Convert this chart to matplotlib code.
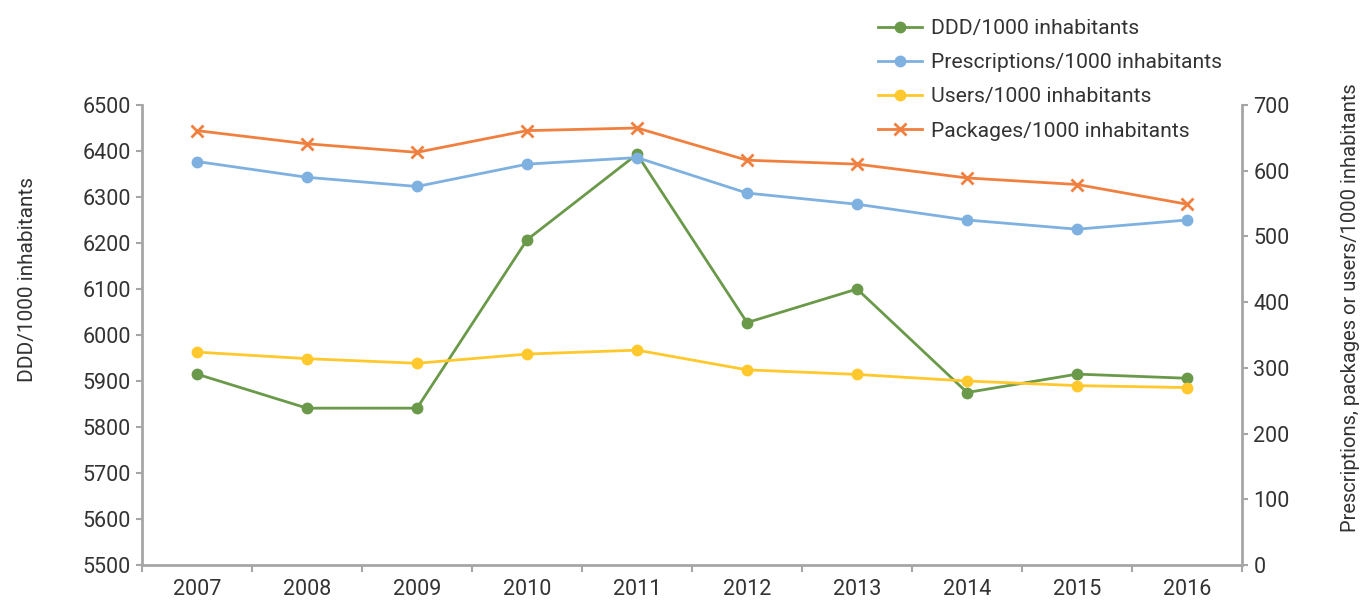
import matplotlib
matplotlib.use('Agg')
import matplotlib.pyplot as plt

plt.rcParams['font.family'] = ['Roboto', 'DejaVu Sans']

years = ['2007', '2008', '2009', '2010', '2011', '2012', '2013', '2014', '2015', '2016']
ddd = [5915, 5841, 5841, 6207, 6393, 6027, 6100, 5875, 5915, 5906]
prescriptions = [614, 590, 576, 610, 620, 566, 549, 525, 511, 525]
users = [324, 314, 307, 321, 327, 297, 290, 280, 273, 270]
packages = [661, 641, 628, 661, 665, 616, 610, 589, 579, 549]

green = '#6A994A'
blue = '#7FB1E0'
yellow = '#FFC82C'
orange = '#F0803F'
axis_grey = '#A6A6A6'
text_col = '#333333'

fig = plt.figure(figsize=(13.65, 6), dpi=100)
ax = fig.add_axes([0.104, 0.0583, 0.806, 0.7667])
ax2 = ax.twinx()

x = list(range(len(years)))
ax.plot(x, ddd, color=green, lw=2, marker='o', ms=7.5, label='DDD/1000 inhabitants')
ax2.plot(x, prescriptions, color=blue, lw=2, marker='o', ms=7.5, label='Prescriptions/1000 inhabitants')
ax2.plot(x, users, color=yellow, lw=2, marker='o', ms=7.5, label='Users/1000 inhabitants')
ax2.plot(x, packages, color=orange, lw=2, marker='x', ms=8, mew=2, label='Packages/1000 inhabitants')

ax.set_xlim(-0.5, len(years) - 0.5)
ax.set_ylim(5500, 6500)
ax2.set_ylim(0, 700)
ax.set_yticks(range(5500, 6501, 100))
ax2.set_yticks(range(0, 701, 100))
ax.set_xticks(x)
ax.set_xticklabels(years)
ax.set_xticks([i - 0.5 for i in range(len(years) + 1)], minor=True)

for a in (ax, ax2):
    a.spines['top'].set_visible(False)
    for s in ('left', 'right', 'bottom'):
        a.spines[s].set_color(axis_grey)
        a.spines[s].set_linewidth(2)
ax.spines['right'].set_visible(False)
ax2.spines['left'].set_visible(False)
ax2.spines['bottom'].set_visible(False)

ax.tick_params(axis='x', which='major', length=0, pad=10, labelsize=15.5, labelcolor=text_col)
ax.tick_params(axis='x', which='minor', length=5, width=1.5, color=axis_grey)
ax.tick_params(axis='y', length=4, width=1.5, color=axis_grey, labelsize=15.5, labelcolor=text_col, pad=4)
ax2.tick_params(axis='y', length=4, width=1.5, color=axis_grey, labelsize=15.5, labelcolor=text_col, pad=4)

ax.set_ylabel('DDD/1000 inhabitants', fontsize=15, color=text_col)
ax.yaxis.set_label_coords(-0.095, 0.62)
ax2.set_ylabel('Prescriptions, packages or users/1000 inhabitants', fontsize=14.5, color=text_col)
ax2.yaxis.set_label_coords(1.09, 0.56)

handles = ax.get_lines() + ax2.get_lines()
leg = fig.legend(handles, [h.get_label() for h in handles], loc='upper left',
                 bbox_to_anchor=(0.629, 1.0), frameon=False, fontsize=15.2,
                 handlelength=2.1, handletextpad=0.45, labelspacing=0.72, labelcolor=text_col)

fig.savefig('out.png', dpi=100)
